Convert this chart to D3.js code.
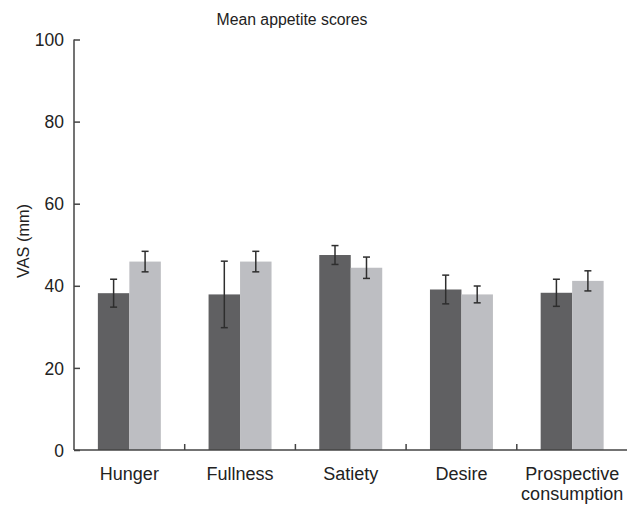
<!DOCTYPE html>
<html>
<head>
<meta charset="utf-8">
<script src="https://cdn.jsdelivr.net/npm/d3@7"></script>
<style>
  html, body { margin: 0; padding: 0; background: #fff; }
  svg { display: block; font-family: "Liberation Sans", Arial, sans-serif; }
</style>
</head>
<body>
<svg id="chart" width="627" height="507"></svg>
<script>
// Appetite categories and the two conditions' mean VAS scores with error bars
const categories = ["Hunger", "Fullness", "Satiety", "Desire", "Prospective consumption"];
const seriesNames = ["A", "B"];
const meansA = [38.2, 37.9, 47.5, 39.1, 38.3];
const errorsA = [3.4, 8.1, 2.3, 3.5, 3.3];
const meansB = [45.9, 45.9, 44.4, 37.9, 41.2];
const errorsB = [2.5, 2.5, 2.6, 2.05, 2.45];
const yTicks = [0, 20, 40, 60, 80, 100];
const colors = ["#606062", "#bdbec2"];

const svg = d3.select("#chart");
const plotLeft = 74, plotRight = 627.5, plotTop = 39.5, plotBottom = 450;

const x = d3.scaleBand().domain(categories).range([plotLeft, plotRight]).paddingInner(0).paddingOuter(0);
const xs = d3.scaleBand().domain(seriesNames).range([0, x.bandwidth()]).paddingInner(0).paddingOuter(0.758);
const y = d3.scaleLinear().domain([0, 100]).range([plotBottom, plotTop]);

const rows = categories.map((c, i) => ({
  cat: c,
  vals: [
    { s: "A", m: meansA[i], e: errorsA[i], color: colors[0] },
    { s: "B", m: meansB[i], e: errorsB[i], color: colors[1] }
  ]
}));

// Bars
const groups = svg.append("g").selectAll("g").data(rows).join("g")
  .attr("transform", d => `translate(${x(d.cat)},0)`);

groups.selectAll("rect").data(d => d.vals).join("rect")
  .attr("x", d => xs(d.s))
  .attr("width", xs.bandwidth())
  .attr("y", d => y(d.m))
  .attr("height", d => y(0) - y(d.m))
  .attr("fill", d => d.color);

// Error bars
const eb = groups.selectAll("g.err").data(d => d.vals).join("g").attr("class", "err")
  .attr("stroke", "#2e2e2e").attr("stroke-width", 1.5);
eb.append("line")
  .attr("x1", d => xs(d.s) + xs.bandwidth() / 2)
  .attr("x2", d => xs(d.s) + xs.bandwidth() / 2)
  .attr("y1", d => y(d.m + d.e))
  .attr("y2", d => y(d.m - d.e));
[1, -1].forEach(sign => {
  eb.append("line")
    .attr("x1", d => xs(d.s) + xs.bandwidth() / 2 - 3.5)
    .attr("x2", d => xs(d.s) + xs.bandwidth() / 2 + 3.5)
    .attr("y1", d => y(d.m + sign * d.e))
    .attr("y2", d => y(d.m + sign * d.e));
});

// Y axis with ticks pointing into the plot
const yAxis = svg.append("g").attr("transform", `translate(${plotLeft},0)`)
  .call(d3.axisRight(y).tickValues(yTicks).tickSize(6).tickFormat(d3.format("d")));
yAxis.select(".domain").remove();
yAxis.selectAll(".tick line").attr("stroke", "#444").attr("stroke-width", 1.5);
yAxis.selectAll(".tick text")
  .attr("x", -10).attr("dy", "0.35em").attr("text-anchor", "end")
  .attr("font-size", 17.5).attr("fill", "#222")
  .attr("font-family", "Liberation Sans, Arial, sans-serif");
svg.append("line")
  .attr("x1", plotLeft).attr("x2", plotLeft)
  .attr("y1", y(100)).attr("y2", y(0))
  .attr("stroke", "#444").attr("stroke-width", 1.5);

// X axis baseline with separators between categories
svg.append("line")
  .attr("x1", plotLeft).attr("x2", 627)
  .attr("y1", plotBottom).attr("y2", plotBottom)
  .attr("stroke", "#444").attr("stroke-width", 1.5);
svg.append("g").selectAll("line").data(categories.slice(1)).join("line")
  .attr("x1", d => x(d)).attr("x2", d => x(d))
  .attr("y1", plotBottom).attr("y2", plotBottom - 6)
  .attr("stroke", "#444").attr("stroke-width", 1.5);

// Category labels (wrapped onto two lines where needed)
const labels = svg.append("g").selectAll("text").data(categories).join("text")
  .attr("text-anchor", "middle")
  .attr("font-size", 18).attr("fill", "#222")
  .attr("transform", d => `translate(${x(d) + x.bandwidth() / 2},479.5)`);
labels.each(function(d) {
  const words = d.split(" ");
  d3.select(this).selectAll("tspan").data(words).join("tspan")
    .attr("x", 0).attr("dy", (w, i) => i === 0 ? 0 : 20.5).text(w => w);
});

// Y axis title
svg.append("text")
  .attr("transform", "translate(29,241) rotate(-90)")
  .attr("text-anchor", "middle")
  .attr("font-size", 16.3).attr("fill", "#222")
  .text("VAS (mm)");

// Chart title
svg.append("text")
  .attr("x", 292).attr("y", 25)
  .attr("text-anchor", "middle")
  .attr("font-size", 15.8).attr("fill", "#222")
  .text("Mean appetite scores");
</script>
</body>
</html>
